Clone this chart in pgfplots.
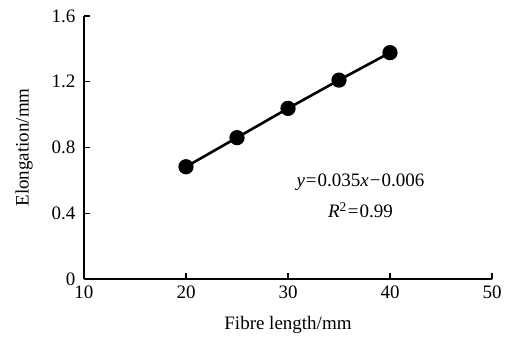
\documentclass[border=0pt]{standalone}
\usepackage{fontspec}
\setmainfont{Liberation Serif}
\usepackage{pgfplots}
\pgfplotsset{compat=1.18}
\begin{document}
\begin{tikzpicture}
\begin{axis}[
  name=ax, at={(0,0)}, anchor=south west,
  scale only axis, width=408pt, height=263pt,
  xmin=10, xmax=50, ymin=0, ymax=1.6,
  xtick={10,20,30,40,50}, ytick={0,0.4,0.8,1.2,1.6},
  axis x line*=bottom, axis y line*=left,
  axis line style={line width=1.3pt, -},
  tick align=inside, major tick length=6pt,
  tick style={line width=1.2pt, black},
  /pgf/number format/assume math mode=true,
  tick label style={font=\fontsize{19}{21}\selectfont},
  label style={font=\fontsize{19}{21}\selectfont},
  xticklabel style={yshift=-3pt},
  yticklabel style={xshift=-5pt},
  xlabel={Fibre length/mm},
  ylabel={Elongation/mm},
  xlabel style={yshift=-11pt},
  ylabel style={yshift=12pt},
  clip=false,
]
\addplot[black, line width=2.6pt, mark=*, mark size=6.3pt, mark options={solid, fill=black}]
coordinates {(20,0.683) (25,0.86) (30,1.038) (35,1.21) (40,1.377)};
\node[font=\fontsize{19}{21}\selectfont] at (axis cs:37.1,0.59) {\textit{y}\kern1pt=\kern1pt0.035\textit{x}\kern1pt\textminus\kern1pt0.006};
\node[font=\fontsize{19}{21}\selectfont] at (axis cs:37.1,0.42) {\textit{R}\textsuperscript{2}\kern1pt=\kern1pt0.99};
\end{axis}
\pgfresetboundingbox
\path[use as bounding box] (-84pt,-64pt) rectangle (424pt,279pt);
\end{tikzpicture}
\end{document}
